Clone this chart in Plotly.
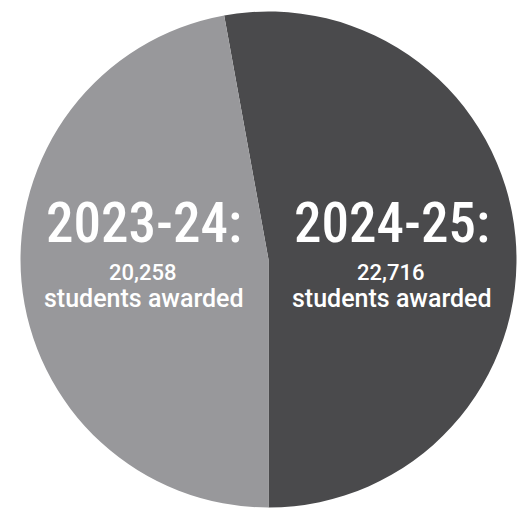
import plotly.graph_objects as go

years = ["2024-25", "2023-24"]
awarded = [22716, 20258]
award_labels = ["22,716", "20,258"]
colors = ["#4a4a4c", "#98989b"]

total = sum(awarded)
rotation = 180 - 360 * awarded[0] / total

W, H = 531, 508
cx, cy, r = 268.5, 259.5, 248.0

fig = go.Figure(go.Pie(
    labels=years,
    values=awarded,
    sort=False,
    direction="clockwise",
    rotation=rotation,
    marker=dict(colors=colors, line=dict(width=0)),
    textinfo="none",
    hoverinfo="none",
    showlegend=False,
    domain=dict(x=[(cx - r) / W, (cx + r) / W], y=[(H - cy - r) / H, (H - cy + r) / H]),
))

TITLE_FONT = "Roboto Condensed, Liberation Sans Narrow, DejaVu Sans Condensed, Roboto, sans-serif"
SUB_FONT = "Roboto, DejaVu Sans, sans-serif"

def px2x(x):
    return x / W

def px2y(y):
    return 1 - y / H

title_pos = {"2024-25": 392, "2023-24": 144}
num_pos = {"2024-25": 390, "2023-24": 142}
annotations = []
for yr, lab in zip(years, award_labels):
    annotations.append(dict(x=px2x(title_pos[yr]), y=px2y(222.5), xref="paper", yref="paper",
                            text=yr + ":", showarrow=False, xanchor="center", yanchor="middle",
                            font=dict(family=TITLE_FONT, size=55, color="white", weight=500)))
    annotations.append(dict(x=px2x(num_pos[yr]), y=px2y(272), xref="paper", yref="paper",
                            text=lab, showarrow=False, xanchor="center", yanchor="middle",
                            font=dict(family=SUB_FONT, size=22, color="white", weight=500)))
    annotations.append(dict(x=px2x(title_pos[yr]), y=px2y(298.5), xref="paper", yref="paper",
                            text="students awarded", showarrow=False, xanchor="center", yanchor="middle",
                            font=dict(family=SUB_FONT, size=25, color="white", weight=500)))

fig.update_layout(
    width=W, height=H,
    margin=dict(l=0, r=0, t=0, b=0),
    paper_bgcolor="white",
    plot_bgcolor="white",
    annotations=annotations,
)

fig.write_html("out.html")
